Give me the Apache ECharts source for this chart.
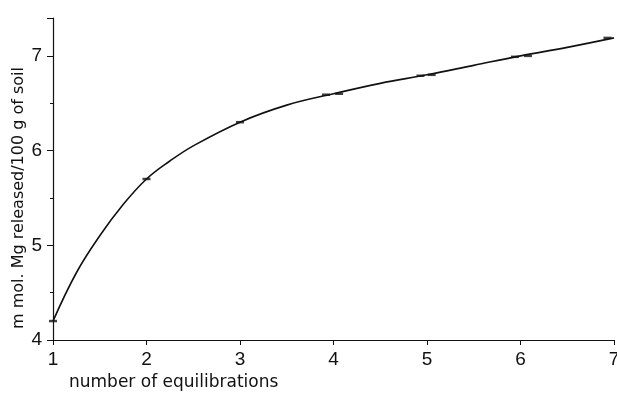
<!DOCTYPE html>
<html>
<head>
<meta charset="utf-8">
<script src="https://cdn.jsdelivr.net/npm/echarts@6/dist/echarts.min.js"></script>
<style>
  html, body { margin: 0; padding: 0; background: #fff; }
  #chart { width: 617px; height: 395px; }
</style>
</head>
<body>
<div id="chart"></div>
<script>
// fitted curve, values
const curveX = [1, 1.25, 1.5, 1.75, 2, 2.25, 2.5, 3, 3.5, 4, 4.5, 5, 5.5, 6, 6.5, 7]
const curveY = [4.2, 4.71, 5.1, 5.43, 5.7, 5.89, 6.05, 6.3, 6.48, 6.6, 6.71, 6.8, 6.9, 7.0, 7.09, 7.19]
// measured points (little dashes on the curve)
const pointX = [1, 2, 3, 3.92, 4.06, 4.93, 5.05, 5.94, 6.08, 6.93]
const pointY = [4.2, 5.7, 6.3, 6.59, 6.6, 6.79, 6.8, 6.99, 7.0, 7.19]
const yTicks = [4, 5, 6, 7]

const chart = echarts.init(document.getElementById('chart'))
const font = 'Liberation Sans, Arial, sans-serif'

chart.setOption({
  animation: false,
  grid: { left: 53, right: 3, top: 18, bottom: 55, outerBoundsMode: 'none' },
  xAxis: {
    type: 'value',
    min: 1,
    max: 7,
    interval: 1,
    name: 'number of equilibrations',
    nameLocation: 'start',
    nameGap: 0,
    nameMoveOverlap: false,
    nameTextStyle: {
      color: '#111', fontSize: 17, fontFamily: 'DejaVu Sans',
      align: 'left', verticalAlign: 'top', padding: [34, 0, 0, 16]
    },
    axisLine: { lineStyle: { color: '#111', width: 1.2 } },
    axisTick: { length: 5, lineStyle: { color: '#111' } },
    axisLabel: { color: '#111', fontSize: 19, fontFamily: font, margin: 10 },
    splitLine: { show: false }
  },
  yAxis: {
    type: 'value',
    min: 4,
    max: 7.4,
    interval: 1,
    name: 'm mol. Mg released/100 g of soil',
    nameLocation: 'middle',
    nameGap: 26,
    nameMoveOverlap: false,
    nameTextStyle: {
      color: '#111', fontSize: 16, fontFamily: 'DejaVu Sans',
      padding: [0, 38, 0, 0]
    },
    axisLine: { lineStyle: { color: '#111', width: 1.2 } },
    axisTick: { length: 6, lineStyle: { color: '#111' } },
    minorTick: { show: true, splitNumber: 2, length: 3, lineStyle: { color: '#111' } },
    axisLabel: {
      color: '#111', fontSize: 19, fontFamily: font, margin: 11,
      formatter: v => yTicks.includes(v) ? String(v) : ''
    },
    splitLine: { show: false }
  },
  series: [
    {
      type: 'line',
      data: curveX.map((x, i) => [x, curveY[i]]),
      smooth: 0.4,
      showSymbol: false,
      lineStyle: { color: '#111', width: 1.6 }
    },
    {
      type: 'scatter',
      data: pointX.map((x, i) => [x, pointY[i]]),
      symbol: 'rect',
      symbolSize: [8, 2.5],
      itemStyle: { color: '#111' }
    }
  ]
})
</script>
</body>
</html>
